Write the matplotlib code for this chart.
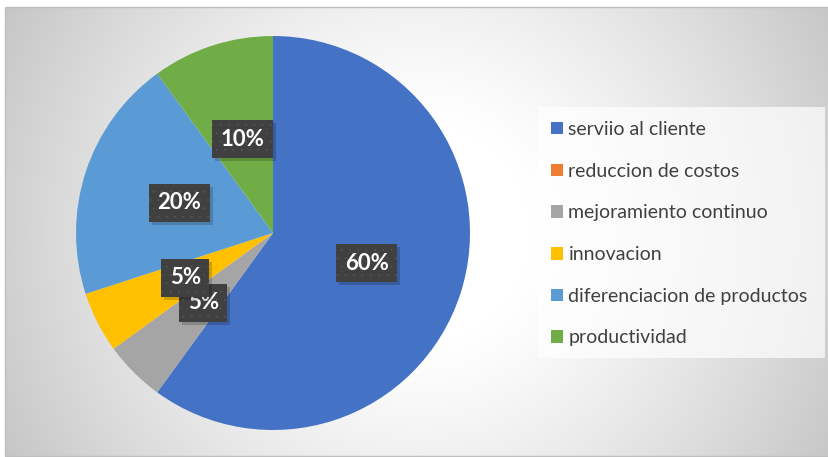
import numpy as np
import matplotlib.pyplot as plt
from matplotlib.patches import Rectangle
from matplotlib.transforms import IdentityTransform

plt.rcParams['font.family'] = ['Lato', 'DejaVu Sans']
plt.rcParams['hatch.linewidth'] = 0.0

categories = ["serviio al cliente", "reduccion de costos", "mejoramiento continuo",
              "innovacion", "diferenciacion de productos", "productividad"]
values = [60, 0, 5, 5, 20, 10]
colors = ["#4472C4", "#ED7D31", "#A5A5A5", "#FFC000", "#5B9BD5", "#70AD47"]

W, H = 829, 457
fig = plt.figure(figsize=(W / 100, H / 100), dpi=100)
fig.patch.set_facecolor("white")

# background: radial gradient chart area
bg = fig.add_axes([0, 0, 1, 1], zorder=0)
bg.set_xlim(0, W)
bg.set_ylim(H, 0)
bg.axis("off")
yy, xx = np.mgrid[7:456, 5:W]
r = np.hypot(xx - 420, yy - 232)
v = 1.0 - 0.23 * np.clip((r - 110) / 370, 0, 1) ** 1.2
bg.imshow(np.dstack([v, v, v]), extent=(5, W, 456, 7), interpolation="bilinear", aspect="auto")
bg.add_patch(Rectangle((5, 7), W, 449, fill=False, edgecolor="#bfbfbf", linewidth=1))
# legend frame
bg.add_patch(Rectangle((538, 107), 287, 251, facecolor="white", alpha=0.7, edgecolor="none"))

# pie
cx, cy, rad = 273, 233, 197
ax = fig.add_axes([(cx - rad) / W, (H - cy - rad) / H, 2 * rad / W, 2 * rad / H], zorder=1)
wedges, texts, autotexts = ax.pie(
    values, colors=colors, startangle=90, counterclock=False,
    autopct=lambda p: f"{p:.0f}%" if p > 0 else "", pctdistance=0.5,
    wedgeprops=dict(linewidth=0),
)
ax.set_xlim(-1, 1)
ax.set_ylim(-1, 1)
ax.set_aspect("equal")

labelled = [t for t in autotexts if t.get_text()]
for i, t in enumerate(labelled):
    t.set_fontsize(16)
    t.set_fontweight("bold")
    t.set_color("white")
    t.set_zorder(4 + 2 * i)
    t.set_bbox(dict(boxstyle="square,pad=0.38", facecolor="#404040", edgecolor="#5a5a5a",
                    linewidth=0, hatch=".."))

leg = fig.legend(wedges, categories, loc="upper left", bbox_to_anchor=(551 / W, 1 - 121 / H),
                 frameon=False, fontsize=14, handlelength=0.62, handleheight=0.62,
                 handletextpad=0.28, labelspacing=1.27, borderaxespad=0, borderpad=0)
for txt in leg.get_texts():
    txt.set_color("#404040")

# drop shadows behind the label boxes
fig.canvas.draw()
for i, t in enumerate(labelled):
    bb = t.get_bbox_patch().get_window_extent()
    ax.add_patch(Rectangle((bb.x0 + 3, bb.y0 - 3), bb.width, bb.height, transform=IdentityTransform(),
                           facecolor="black", alpha=0.18, linewidth=0, zorder=3 + 2 * i))

fig.savefig("out.png", dpi=100)
